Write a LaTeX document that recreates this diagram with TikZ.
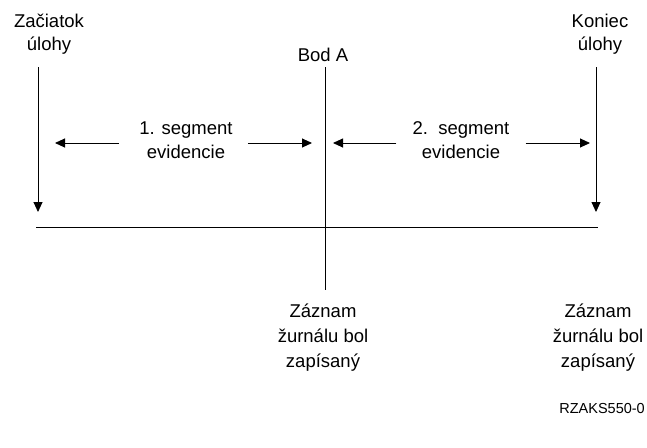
\documentclass[tikz,border=0pt]{standalone}
\usepackage{fontspec}
\setmainfont{Liberation Sans}
\usepackage{tikz}
\usetikzlibrary{arrows.meta, positioning}

\begin{document}
\begin{tikzpicture}[x=1pt, y=-1pt,
    lbl/.style={align=center, inner sep=0pt, font=\fontsize{18.5}{23.5}\selectfont},
    seglbl/.style={lbl, font=\fontsize{18.5}{24}\selectfont},
    reclbl/.style={lbl, font=\fontsize{18.5}{25}\selectfont},
    line/.style={draw, line width=0.9pt},
    arrow/.style={line, -{Triangle[length=10pt, width=9pt]}}
]
    \useasboundingbox (0,0) rectangle (647,447);

    % Labels
    \node[lbl] (start) at (49,34) {Začiatok\\úlohy};
    \node[lbl] (end) at (600,34) {Koniec\\úlohy};
    \node[lbl] (bod) at (323,55) {Bod A};
    \node[seglbl] (seg1) at (186,140) {1. segment\\evidencie};
    \node[seglbl] (seg2) at (461,140) {2.\ \ segment\\evidencie};
    \node[reclbl] (rec1) at (323,338) {Záznam\\žurnálu bol\\zapísaný};
    \node[reclbl] (rec2) at (598,338) {Záznam\\žurnálu bol\\zapísaný};
    \node[inner sep=0pt, anchor=east, font=\fontsize{14.5}{18}\selectfont] (fig) at (645,409) {RZAKS550-0};

    % Line ends
    \coordinate (starttop) at (38,67);
    \coordinate (startbot) at (38,212);
    \coordinate (endtop) at (596,67);
    \coordinate (endbot) at (596,212);
    \coordinate (bodtop) at (325,67);
    \coordinate (bodbot) at (325,290);
    \coordinate (axisl) at (36,227);
    \coordinate (axisr) at (598,227);
    \coordinate (seg1l) at (55,143);
    \coordinate (seg1r) at (312,143);
    \coordinate (seg2l) at (333,143);
    \coordinate (seg2r) at (590,143);

    % Time line
    \draw[line] (axisl) -- (axisr);
    \draw[line] (bodtop) -- (bodbot);
    \draw[arrow] (starttop) -- (startbot);
    \draw[arrow] (endtop) -- (endbot);

    % Segments
    \draw[arrow, shorten <=20pt] (seg1.west |- seg1l) -- (seg1l);
    \draw[arrow, shorten <=15pt] (seg1.east |- seg1r) -- (seg1r);
    \draw[arrow, shorten <=16pt] (seg2.west |- seg2l) -- (seg2l);
    \draw[arrow, shorten <=16pt] (seg2.east |- seg2r) -- (seg2r);
\end{tikzpicture}
\end{document}
